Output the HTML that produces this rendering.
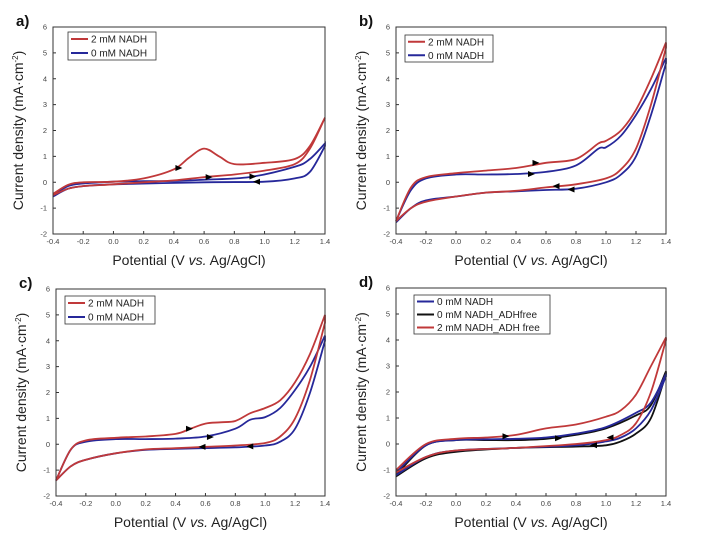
<!DOCTYPE html>
<html><head><meta charset="utf-8">
<style>
html,body{margin:0;padding:0;background:#fff;}
svg{display:block;font-family:"Liberation Sans",sans-serif;}
</style></head>
<body>
<svg id="fig" width="708" height="545" viewBox="0 0 708 545"></svg>
<script>
// ---- data ----
const panelLabels = ["a)","b)","c)","d)"];
const xTicks = [-0.4,-0.2,0.0,0.2,0.4,0.6,0.8,1.0,1.2,1.4];
const yTicks = [-2,-1,0,1,2,3,4,5,6];

const aRedFwdX = [-0.4,-0.3,-0.2,0,0.2,0.4,0.5,0.6,0.7,0.8,1.0,1.2,1.3,1.4];
const aRedFwdY = [-0.45,-0.1,0,0.02,0.15,0.5,0.95,1.3,1.0,0.7,0.75,0.9,1.4,2.5];
const aRedRevX = [1.4,1.3,1.2,1.0,0.8,0.6,0.4,0.2,0,-0.2,-0.3,-0.4];
const aRedRevY = [2.5,1.3,0.7,0.45,0.3,0.2,0.07,0,-0.08,-0.15,-0.25,-0.5];
const aBlueFwdX = [-0.4,-0.3,-0.2,0,0.2,0.4,0.6,0.9,1.2,1.3,1.4];
const aBlueFwdY = [-0.5,-0.15,-0.05,0.02,0.04,0.05,0.1,0.2,0.6,0.9,1.5];
const aBlueRevX = [1.4,1.3,1.2,1.0,0.6,0,-0.2,-0.3,-0.4];
const aBlueRevY = [1.4,0.4,0.15,0.02,0,-0.08,-0.15,-0.25,-0.55];

const bRedFwdX = [-0.4,-0.3,-0.2,0,0.2,0.4,0.6,0.8,0.95,1.0,1.1,1.2,1.3,1.4];
const bRedFwdY = [-1.5,-0.2,0.2,0.35,0.45,0.55,0.75,0.9,1.5,1.6,2.0,2.8,4.0,5.4];
const bRedRevX = [1.4,1.3,1.2,1.1,1.0,0.8,0.6,0.4,0.2,0,-0.2,-0.3,-0.4];
const bRedRevY = [5.2,3.0,1.3,0.5,0.15,-0.08,-0.2,-0.33,-0.4,-0.55,-0.75,-1.0,-1.5];
const bBlueFwdX = [-0.4,-0.3,-0.2,0,0.2,0.4,0.6,0.8,0.95,1.0,1.1,1.2,1.3,1.4];
const bBlueFwdY = [-1.5,-0.3,0.15,0.3,0.3,0.32,0.4,0.65,1.3,1.35,1.8,2.6,3.6,4.8];
const bBlueRevX = [1.4,1.3,1.2,1.1,1.0,0.8,0.6,0.4,0.2,0,-0.2,-0.3,-0.4];
const bBlueRevY = [4.6,2.6,1.0,0.3,0,-0.25,-0.3,-0.35,-0.4,-0.55,-0.7,-1.0,-1.55];

const cRedFwdX = [-0.4,-0.3,-0.2,0,0.2,0.4,0.5,0.6,0.7,0.8,0.9,1.0,1.1,1.2,1.3,1.4];
const cRedFwdY = [-1.4,-0.2,0.15,0.25,0.3,0.4,0.6,0.8,0.85,0.9,1.2,1.4,1.7,2.4,3.5,5.0];
const cRedRevX = [1.4,1.3,1.2,1.1,1.0,0.8,0.6,0.4,0.2,0,-0.2,-0.3,-0.4];
const cRedRevY = [4.7,2.5,1.0,0.3,0.05,-0.05,-0.1,-0.15,-0.2,-0.35,-0.6,-0.85,-1.4];
const cBlueFwdX = [-0.4,-0.3,-0.2,0,0.2,0.4,0.6,0.8,0.9,1.0,1.1,1.2,1.3,1.4];
const cBlueFwdY = [-1.4,-0.2,0.1,0.2,0.2,0.22,0.3,0.6,0.95,1.05,1.4,2.1,3.0,4.2];
const cBlueRevX = [1.4,1.3,1.2,1.1,1.0,0.8,0.6,0.4,0.2,0,-0.2,-0.3,-0.4];
const cBlueRevY = [4.0,2.0,0.6,0.1,-0.05,-0.12,-0.15,-0.18,-0.22,-0.35,-0.6,-0.85,-1.4];

const dBlueFwdX = [-0.4,-0.2,0,0.2,0.4,0.6,0.8,1.0,1.2,1.3,1.4];
const dBlueFwdY = [-1.1,-0.05,0.15,0.18,0.2,0.25,0.4,0.65,1.2,1.6,2.7];
const dBlueRevX = [1.4,1.3,1.2,1.1,1.0,0.8,0.4,0,-0.2,-0.4];
const dBlueRevY = [2.6,1.3,0.6,0.25,0.1,-0.05,-0.15,-0.25,-0.5,-1.2];
const dBlackFwdX = [-0.4,-0.2,0,0.2,0.4,0.6,0.8,1.0,1.2,1.3,1.4];
const dBlackFwdY = [-1.2,-0.05,0.15,0.15,0.15,0.2,0.35,0.6,1.1,1.5,2.8];
const dBlackRevX = [1.4,1.3,1.2,1.1,1.0,0.8,0.4,0,-0.2,-0.4];
const dBlackRevY = [2.7,1.0,0.4,0.1,-0.05,-0.1,-0.15,-0.3,-0.55,-1.25];
const dRedFwdX = [-0.4,-0.2,0,0.2,0.4,0.6,0.8,1.0,1.1,1.2,1.3,1.4];
const dRedFwdY = [-1.0,0.0,0.2,0.25,0.35,0.6,0.75,1.05,1.3,1.9,3.0,4.1];
const dRedRevX = [1.4,1.3,1.2,1.1,1.0,0.8,0.4,0,-0.2,-0.4];
const dRedRevY = [4.0,2.0,0.8,0.35,0.15,0.0,-0.15,-0.25,-0.5,-1.1];

const RED="#c0393a", BLUE="#26289a", BLACK="#111";
const panels = [
 {box:[53,27,325,234], legend:[68,32,156,60], entries:[["2 mM NADH",RED],["0 mM NADH",BLUE]],
  series:[[aBlueFwdX,aBlueFwdY,aBlueRevX,aBlueRevY,BLUE],[aRedFwdX,aRedFwdY,aRedRevX,aRedRevY,RED]],
  arrows:[[0.43,0.55,1],[0.63,0.2,1],[0.92,0.22,1],[0.95,0.02,-1]]},
 {box:[396,27,666,234], legend:[405,35,493,62], entries:[["2 mM NADH",RED],["0 mM NADH",BLUE]],
  series:[[bBlueFwdX,bBlueFwdY,bBlueRevX,bBlueRevY,BLUE],[bRedFwdX,bRedFwdY,bRedRevX,bRedRevY,RED]],
  arrows:[[0.53,0.75,1],[0.5,0.32,1],[0.67,-0.15,-1],[0.77,-0.28,-1]]},
 {box:[56,289,325,496], legend:[65,296,155,324], entries:[["2 mM NADH",RED],["0 mM NADH",BLUE]],
  series:[[cBlueFwdX,cBlueFwdY,cBlueRevX,cBlueRevY,BLUE],[cRedFwdX,cRedFwdY,cRedRevX,cRedRevY,RED]],
  arrows:[[0.49,0.6,1],[0.63,0.28,1],[0.58,-0.1,-1],[0.9,-0.08,-1]]},
 {box:[396,288,666,496], legend:[414,295,550,334], entries:[["0 mM NADH",BLUE],["0 mM NADH_ADHfree",BLACK],["2 mM NADH_ADH free",RED]],
  series:[[dBlackFwdX,dBlackFwdY,dBlackRevX,dBlackRevY,BLACK],[dBlueFwdX,dBlueFwdY,dBlueRevX,dBlueRevY,BLUE],[dRedFwdX,dRedFwdY,dRedRevX,dRedRevY,RED]],
  arrows:[[0.33,0.3,1],[0.68,0.22,1],[1.03,0.25,-1],[0.92,-0.05,-1]]}
];

const NS="http://www.w3.org/2000/svg";
const svg=document.getElementById('fig');
function mk(tag,attrs,parent){const e=document.createElementNS(NS,tag);for(const k in attrs)e.setAttribute(k,attrs[k]);(parent||svg).appendChild(e);return e;}
function smooth(pts){
  let d="M"+pts[0][0].toFixed(1)+","+pts[0][1].toFixed(1);
  for(let i=0;i<pts.length-1;i++){
    const p0=pts[Math.max(0,i-1)],p1=pts[i],p2=pts[i+1],p3=pts[Math.min(pts.length-1,i+2)];
    const c1=[p1[0]+(p2[0]-p0[0])/6,p1[1]+(p2[1]-p0[1])/6];
    const c2=[p2[0]-(p3[0]-p1[0])/6,p2[1]-(p3[1]-p1[1])/6];
    d+=` C${c1[0].toFixed(1)},${c1[1].toFixed(1)} ${c2[0].toFixed(1)},${c2[1].toFixed(1)} ${p2[0].toFixed(1)},${p2[1].toFixed(1)}`;
  }
  return d;
}

panels.forEach((p,pi)=>{
  const [L,T,R,B]=p.box;
  const sx=v=>L+(v+0.4)/1.8*(R-L);
  const sy=v=>B-(v+2)/8*(B-T);
  const g=mk('g',{});
  
  
  const lab=mk('text',{x:L-37,y:T-1,'font-size':15,'font-weight':'bold',fill:'#111'},g);
  lab.textContent=panelLabels[pi];
  
  
  p.series.forEach(s=>{
    const pts=s[0].map((x,i)=>[sx(x),sy(s[1][i])]);
    const pts2=s[2].map((x,i)=>[sx(x),sy(s[3][i])]);
    const path=mk('path',{d:smooth(pts)+" "+smooth(pts2).replace("M","L"),fill:'none',stroke:s[4],'stroke-width':1.8},g);
    
    
  });
  p.arrows.forEach(a=>{
    const x=sx(a[0]),y=sy(a[1]),d=a[2];
    const ar=mk('polygon',{points:`${x+4*d},${y} ${x-3*d},${y-3} ${x-3*d},${y+3}`,fill:'#000'},g);
    
    
  });
  const box=mk('rect',{x:L,y:T,width:R-L,height:B-T,fill:'none',stroke:'#333','stroke-width':1},g);
  
  
  xTicks.forEach(t=>{
    const x=sx(t);
    mk('line',{x1:x,y1:B,x2:x,y2:B-3,stroke:'#333'},g);
    const tx=mk('text',{x:x,y:B+10,'font-size':7.5,'text-anchor':'middle',fill:'#444'},g);
    tx.textContent=t.toFixed(1);
    
    
  });
  yTicks.forEach(t=>{
    const y=sy(t);
    mk('line',{x1:L,y1:y,x2:L+3,y2:y,stroke:'#333'},g);
    const ty=mk('text',{x:L-6,y:y+2.5,'font-size':7.5,'text-anchor':'end',fill:'#444'},g);
    ty.textContent=t;
    
    
  });
  const xt=mk('text',{x:(L+R)/2,y:B+31,'font-size':14,'text-anchor':'middle',fill:'#222'},g);
  xt.innerHTML='Potential (V <tspan font-style="italic">vs.</tspan> Ag/AgCl)';
  
  
  const cy=(T+B)/2;
  const yt=mk('text',{x:L-30,y:cy,'font-size':14,'text-anchor':'middle',fill:'#222',transform:`rotate(-90 ${L-30} ${cy})`},g);
  yt.innerHTML='Current density (mA·cm<tspan dy="-5" font-size="8">-2</tspan><tspan dy="5">)</tspan>';
  
  
  const [lx,ly,rx,by]=p.legend;
  const lg=mk('rect',{x:lx,y:ly,width:rx-lx,height:by-ly,fill:'#fff',stroke:'#333','stroke-width':0.8},g);
  
  
  const step=(by-ly)/p.entries.length;
  p.entries.forEach((e,i)=>{
    const yy=ly+step*(i+0.5);
    mk('line',{x1:lx+3,y1:yy,x2:lx+20,y2:yy,stroke:e[1],'stroke-width':2},g);
    const et=mk('text',{x:lx+23,y:yy+3.5,'font-size':10,fill:'#222'},g);
    et.textContent=e[0];
    
    
  });
});
</script>
</body></html>
